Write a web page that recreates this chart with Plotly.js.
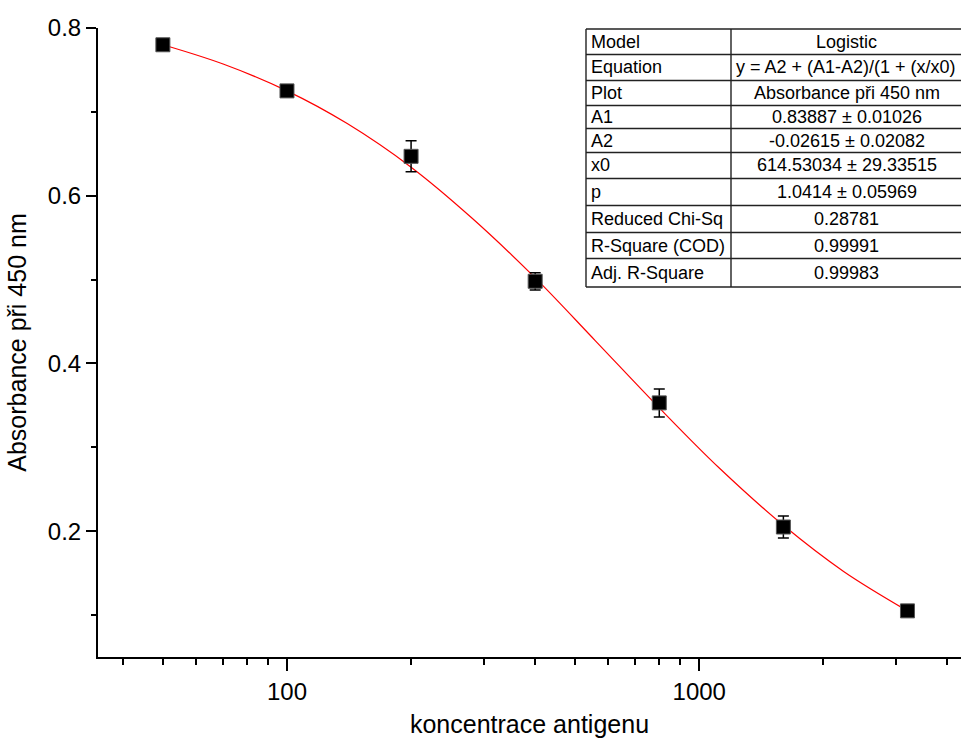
<!DOCTYPE html>
<html>
<head>
<meta charset="utf-8">
<script src="https://cdn.plot.ly/plotly-3.0.1.min.js"></script>
<style>html,body{margin:0;padding:0;background:#fff;}#chart{width:961px;height:738px;}</style>
</head>
<body>
<div id="chart"></div>
<script>
// measured data
const concentration = [50, 100, 200, 400, 800, 1600, 3200];
const absorbance = [0.780, 0.725, 0.647, 0.498, 0.353, 0.205, 0.105];
const absorbanceErr = [0.004, 0.004, 0.0185, 0.0103, 0.0167, 0.013, 0.004];

// fitted curve
const fitX = [50, 70, 100, 140, 200, 280, 400, 560, 800, 1120, 1600, 2240, 3200];
const fitY = [0.780, 0.757, 0.725, 0.686, 0.634, 0.574, 0.502, 0.427, 0.347, 0.275, 0.207, 0.152, 0.105];

// fit table text (the equation is shown as far as the cell lets it be seen)
const tableLabels = ["Model", "Equation", "Plot", "A1", "A2", "x0", "p", "Reduced Chi-Sq", "R-Square (COD)", "Adj. R-Square"];
const tableValues = ["Logistic", "y = A2 + (A1-A2)/(1 + (x/x0)", "Absorbance při 450 nm",
  "0.83887 ± 0.01026", "-0.02615 ± 0.02082", "614.53034 ± 29.33515", "1.0414 ± 0.05969",
  "0.28781", "0.99991", "0.99983"];

const W = 961, H = 738;
const M = {l: 98, r: 0, t: 28, b: 81};
const pw = W - M.l - M.r, ph = H - M.t - M.b;
const px = x => (x - M.l) / pw;
const py = y => (H - M.b - y) / ph;

// table geometry (pixels)
const tL = 586, tMid = 731, tR = 962;
const rowEdges = [29, 54.5, 80.5, 105.5, 128.5, 152.5, 178.5, 205.5, 232.5, 258.5, 287];

const shapes = [];
const lineStyle = {color: '#222', width: 1.4};
for (const y of rowEdges) {
  shapes.push({type: 'line', xref: 'paper', yref: 'paper', x0: px(tL), x1: px(tR), y0: py(y), y1: py(y), line: lineStyle});
}
for (const x of [tL, tMid, tR]) {
  shapes.push({type: 'line', xref: 'paper', yref: 'paper', x0: px(x), x1: px(x), y0: py(rowEdges[0]), y1: py(rowEdges[rowEdges.length - 1]), line: lineStyle});
}

const annotations = [];
const tfont = {family: 'Liberation Sans, Arial, sans-serif', size: 18, color: '#000'};
for (let i = 0; i < tableLabels.length; i++) {
  const yc = (rowEdges[i] + rowEdges[i + 1]) / 2;
  annotations.push({xref: 'paper', yref: 'paper', x: px(tL + 3), y: py(yc), xanchor: 'left', yanchor: 'middle',
    text: tableLabels[i], showarrow: false, font: tfont});
  if (i === 1) {
    annotations.push({xref: 'paper', yref: 'paper', x: px(tMid + 3), y: py(yc), xanchor: 'left', yanchor: 'middle',
      text: tableValues[i], showarrow: false, font: tfont});
  } else {
    annotations.push({xref: 'paper', yref: 'paper', x: px((tMid + tR) / 2), y: py(yc), xanchor: 'center', yanchor: 'middle',
      text: tableValues[i], showarrow: false, font: tfont});
  }
}

const traces = [
  {
    x: fitX, y: fitY, type: 'scatter', mode: 'lines',
    line: {color: '#ff0000', width: 1.2, shape: 'spline'},
    hoverinfo: 'skip', showlegend: false
  },
  {
    x: concentration, y: absorbance, type: 'scatter', mode: 'markers',
    marker: {symbol: 'square', size: 14, color: '#000', line: {color: '#555', width: 1}},
    error_y: {type: 'data', array: absorbanceErr, visible: true, color: '#000', thickness: 1.5, width: 5.5},
    showlegend: false
  }
];

const font = {family: 'Liberation Sans, Arial, sans-serif', color: '#000'};
const layout = {
  width: W, height: H,
  margin: M,
  paper_bgcolor: '#fff', plot_bgcolor: '#fff',
  font: font,
  showlegend: false,
  xaxis: {
    type: 'log',
    range: [Math.log10(34.8), Math.log10(4315)],
    dtick: 1,
    showgrid: false, zeroline: false,
    showline: true, linecolor: '#000', linewidth: 2,
    ticks: 'outside', ticklen: 12, tickwidth: 2, tickcolor: '#000',
    tickfont: {size: 24, family: font.family, color: '#000'},
    exponentformat: 'none',
    minor: {ticks: 'outside', ticklen: 6, tickwidth: 2, tickcolor: '#000', dtick: 'D1', showgrid: false},
    title: {text: 'koncentrace antigenu', font: {size: 25, family: font.family, color: '#000'}, standoff: 12}
  },
  yaxis: {
    range: [0.05, 0.8],
    tick0: 0, dtick: 0.2,
    tickformat: '.1f',
    showgrid: false, zeroline: false,
    showline: true, linecolor: '#000', linewidth: 2,
    ticks: 'outside', ticklen: 10, tickwidth: 2, tickcolor: '#000',
    tickfont: {size: 24, family: font.family, color: '#000'},
    minor: {ticks: 'outside', ticklen: 5, tickwidth: 2, tickcolor: '#000', dtick: 0.1, tick0: 0, showgrid: false},
    title: {text: 'Absorbance při 450 nm', font: {size: 25, family: font.family, color: '#000'}, standoff: 14}
  },
  shapes: shapes,
  annotations: annotations
};

Plotly.newPlot('chart', traces, layout, {displayModeBar: false, staticPlot: true});
</script>
</body>
</html>
